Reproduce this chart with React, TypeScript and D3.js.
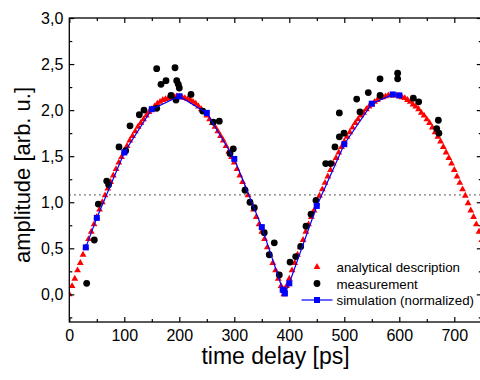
import React, { useEffect, useRef } from 'react';
import * as d3 from 'd3';

// analytical description, sampled every 5 ps from 0 to 750
const analyticTime = d3.range(0, 751, 5);
const analyticAmp = [
  0.00, 0.09, 0.17, 0.26, 0.34, 0.43, 0.51, 0.60, 0.68, 0.76,
  0.84, 0.92, 1.00, 1.075, 1.15, 1.22, 1.29, 1.36, 1.43, 1.49,
  1.55, 1.61, 1.67, 1.72, 1.77, 1.82, 1.86, 1.90, 1.94, 1.98,
  2.01, 2.04, 2.07, 2.09, 2.11, 2.12, 2.13, 2.14, 2.15, 2.15,
  2.15, 2.14, 2.13, 2.12, 2.11, 2.09, 2.07, 2.04, 2.01, 1.98,
  1.94, 1.90, 1.86, 1.82, 1.77, 1.72, 1.67, 1.61, 1.55, 1.49,
  1.43, 1.36, 1.29, 1.22, 1.15, 1.075, 1.00, 0.92, 0.84, 0.76,
  0.68, 0.60, 0.51, 0.43, 0.34, 0.26, 0.17, 0.09, 0.00,
  0.09, 0.17, 0.26, 0.34, 0.43, 0.51, 0.59, 0.68, 0.76, 0.84,
  0.91, 0.99, 1.07, 1.14, 1.21, 1.28, 1.35, 1.42, 1.48, 1.54,
  1.60, 1.66, 1.71, 1.76, 1.81, 1.86, 1.90, 1.94, 1.97, 2.01,
  2.04, 2.06, 2.09, 2.11, 2.13, 2.14, 2.15, 2.16, 2.16, 2.16,
  2.16, 2.15, 2.14, 2.13, 2.11, 2.09, 2.06, 2.04, 2.01, 1.97,
  1.94, 1.90, 1.86, 1.81, 1.76, 1.71, 1.66, 1.60, 1.54, 1.48,
  1.42, 1.35, 1.28, 1.21, 1.14, 1.07, 0.99, 0.91, 0.84, 0.76,
  0.68, 0.59,
];

// measurement (black dots)
const measTime = [
  31.6, 45.5, 52.7, 68, 71.5, 90.4, 102.5, 110.4, 127.3, 135.8,
  158.9, 158.9, 166.7, 175.8, 184.9, 192.2, 195.3, 198.2, 200, 194,
  221.3, 242.5, 261.8, 272.7, 292.2, 298.2, 319.5, 328.5, 336.4, 354.5,
  363.6, 372.7, 381.8, 390.4, 401.3, 411.6, 420.7, 430.4, 439.5, 448.5,
  466.2, 475.3, 483, 491, 499.5, 491, 522.5, 528.5, 543.6, 565,
  565, 597, 597, 625.5, 635.3, 668, 671, 672,
];
const measAmp = [
  0.12, 0.59, 0.98, 1.23, 1.19, 1.60, 1.56, 1.83, 1.95, 2.00,
  2.45, 2.02, 2.28, 2.32, 2.16, 2.46, 2.32, 2.28, 2.24, 2.11,
  2.17, 1.99, 1.87, 1.88, 1.53, 1.58, 1.13, 1.00, 0.94, 0.67,
  0.43, 0.56, 0.21, 0.04, 0.35, 0.41, 0.52, 0.74, 0.87, 1.02,
  1.42, 1.42, 1.60, 1.71, 1.75, 1.97, 2.12, 1.98, 2.19, 2.34,
  2.16, 2.40, 2.34, 2.13, 2.09, 1.80, 1.89, 1.75,
];

// simulation (normalized), blue squares joined by a line
const simTime = [30, 50, 100, 150, 200, 250, 300, 350, 388, 392, 400, 450, 500, 550, 588, 600];
const simAmp = [0.51, 0.83, 1.54, 2.01, 2.15, 1.97, 1.47, 0.73, 0.05, 0.01, 0.12, 0.96, 1.63, 2.07, 2.17, 2.16];

const thresholdLevel = 1.08;

const xMajor = [0, 100, 200, 300, 400, 500, 600, 700];
const xMinor = [50, 150, 250, 350, 450, 550, 650, 750];
const yMajor = [0, 0.5, 1.0, 1.5, 2.0, 2.5, 3.0];
const yMinor = [-0.25, 0.25, 0.75, 1.25, 1.75, 2.25, 2.75];

const legendLabels = ['analytical description', 'measurement', 'simulation (normalized)'];

const App = () => {
  const svgRef = useRef<SVGSVGElement>(null);

  useEffect(() => {
    const boxWidth = 480;
    const boxHeight = 380;
    const left = 69.3;
    const right = 481.8;
    const top = 18;
    const bottom = 322;
    const font = 'Arial, "Liberation Sans", sans-serif';

    const svg = d3.select(svgRef.current);
    svg.selectAll('*').remove();
    svg.attr('width', boxWidth).attr('height', boxHeight);

    const x = d3.scaleLinear().domain([0, 750]).range([left, right]);
    const y = d3.scaleLinear().domain([-0.3, 3.0]).range([bottom, top]);
    const fmt = (d: number) => d3.format('.1f')(d).replace('.', ',');

    svg.append('defs').append('clipPath').attr('id', 'plotclip')
      .append('rect')
      .attr('x', left).attr('y', top)
      .attr('width', right - left).attr('height', bottom - top);

    // dotted level line
    svg.append('line')
      .attr('x1', left).attr('x2', right)
      .attr('y1', y(thresholdLevel)).attr('y2', y(thresholdLevel))
      .attr('stroke', '#333')
      .attr('stroke-width', 1.2)
      .attr('stroke-dasharray', '1.3,3.7');

    const plot = svg.append('g').attr('clip-path', 'url(#plotclip)');

    // analytical description
    const tri = d3.symbol().type(d3.symbolTriangle).size(20);
    plot.append('g')
      .selectAll('path')
      .data(analyticTime)
      .join('path')
      .attr('transform', (d, i) => `translate(${x(d)},${y(analyticAmp[i])})`)
      .attr('d', tri())
      .attr('fill', '#ff0000');

    // measurement
    plot.append('g')
      .selectAll('circle')
      .data(measTime)
      .join('circle')
      .attr('cx', d => x(d))
      .attr('cy', (d, i) => y(measAmp[i]))
      .attr('r', 3.4)
      .attr('fill', '#000');

    // simulation
    const line = d3.line<number>()
      .x(d => x(d))
      .y((d, i) => y(simAmp[i]));
    plot.append('path')
      .datum(simTime)
      .attr('d', line)
      .attr('fill', 'none')
      .attr('stroke', '#0000ff')
      .attr('stroke-width', 1.2);
    plot.append('g')
      .selectAll('rect')
      .data(simTime)
      .join('rect')
      .attr('x', d => x(d) - 3)
      .attr('y', (d, i) => y(simAmp[i]) - 3)
      .attr('width', 6)
      .attr('height', 6)
      .attr('fill', '#0000ff');

    // axes, ticks pointing inward
    const styleAxis = (g: any) => {
      g.select('.domain').remove();
      g.selectAll('line').attr('stroke', '#000').attr('stroke-width', 1.2);
      g.selectAll('text').style('font-size', '16px').style('font-family', font).attr('fill', '#000');
    };

    svg.append('g')
      .attr('transform', `translate(0,${bottom})`)
      .call(d3.axisBottom(x).tickValues(xMajor).tickSize(-5).tickPadding(8).tickFormat(d3.format('d')))
      .call(styleAxis);
    svg.append('g')
      .attr('transform', `translate(0,${bottom})`)
      .call(d3.axisBottom(x).tickValues(xMinor).tickSize(-3).tickFormat(() => ''))
      .call(styleAxis);
    svg.append('g')
      .attr('transform', `translate(0,${top})`)
      .call(d3.axisTop(x).tickValues(xMajor).tickSize(-5).tickFormat(() => ''))
      .call(styleAxis);
    svg.append('g')
      .attr('transform', `translate(0,${top})`)
      .call(d3.axisTop(x).tickValues(xMinor).tickSize(-3).tickFormat(() => ''))
      .call(styleAxis);

    svg.append('g')
      .attr('transform', `translate(${left},0)`)
      .call(d3.axisLeft(y).tickValues(yMajor).tickSize(-5).tickPadding(6).tickFormat(fmt))
      .call(styleAxis);
    svg.append('g')
      .attr('transform', `translate(${left},0)`)
      .call(d3.axisLeft(y).tickValues(yMinor).tickSize(-3).tickFormat(() => ''))
      .call(styleAxis);
    svg.append('g')
      .attr('transform', `translate(${right},0)`)
      .call(d3.axisRight(y).tickValues(yMajor).tickSize(-5).tickFormat(() => ''))
      .call(styleAxis);
    svg.append('g')
      .attr('transform', `translate(${right},0)`)
      .call(d3.axisRight(y).tickValues(yMinor).tickSize(-3).tickFormat(() => ''))
      .call(styleAxis);

    // frame
    svg.append('rect')
      .attr('x', left).attr('y', top)
      .attr('width', right - left).attr('height', bottom - top)
      .attr('fill', 'none')
      .attr('stroke', '#000')
      .attr('stroke-width', 1.3);

    // axis titles
    svg.append('text')
      .attr('x', (left + right) / 2)
      .attr('y', 364)
      .attr('text-anchor', 'middle')
      .style('font-family', font)
      .style('font-size', '23px')
      .text('time delay [ps]');
    svg.append('text')
      .attr('transform', `translate(30,${(top + bottom) / 2 + 5}) rotate(-90)`)
      .attr('text-anchor', 'middle')
      .style('font-family', font)
      .style('font-size', '22px')
      .text('amplitude [arb. u.]');

    // legend
    const lg = svg.append('g').attr('transform', 'translate(317,267)');
    lg.append('path').attr('d', tri()).attr('fill', '#ff0000');
    lg.append('circle').attr('cy', 16.5).attr('r', 3.4).attr('fill', '#000');
    lg.append('line')
      .attr('x1', -15.5).attr('x2', 15.5)
      .attr('y1', 33).attr('y2', 33)
      .attr('stroke', '#0000ff').attr('stroke-width', 1.2);
    lg.append('rect').attr('x', -3).attr('y', 30).attr('width', 6).attr('height', 6).attr('fill', '#0000ff');
    lg.selectAll('text.lab')
      .data(legendLabels)
      .join('text')
      .attr('class', 'lab')
      .attr('x', 19.5)
      .attr('y', (d, i) => i * 16.5 + 5)
      .style('font-family', font)
      .style('font-size', '13.3px')
      .text(d => d);
  }, []);

  return (
    <svg
      ref={svgRef}
      style={{ position: 'absolute', left: 0, top: 0, display: 'block', backgroundColor: 'white' }}
    ></svg>
  );
};

export default App;
